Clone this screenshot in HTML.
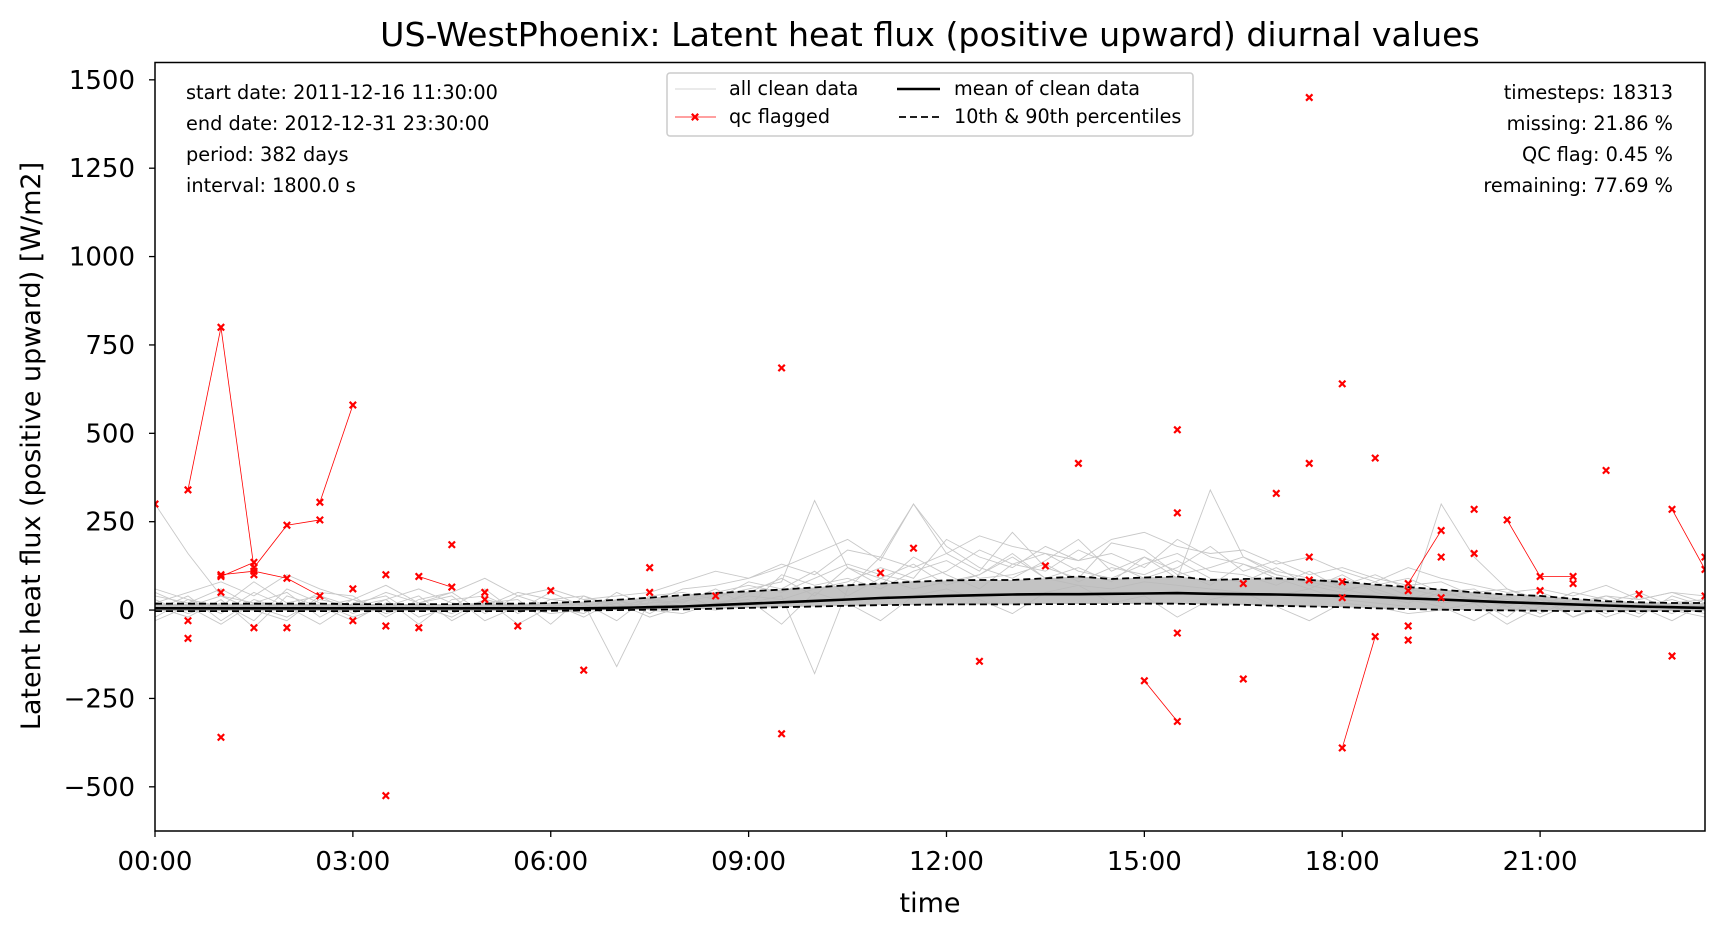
<!DOCTYPE html>
<html><head><meta charset="utf-8">
<style>
html,body{margin:0;padding:0;background:#fff;}
svg{display:block;font-family:"DejaVu Sans","Liberation Sans",sans-serif;}
</style></head>
<body>
<svg id="chart" width="1724" height="939" viewBox="0 0 1724 939" xmlns="http://www.w3.org/2000/svg">
<rect width="1724" height="939" fill="#fff"/>
<text x="930" y="46" font-size="33.2" text-anchor="middle">US-WestPhoenix: Latent heat flux (positive upward) diurnal values</text>
<g id="plot"></g>
<g id="axes"></g>
<text transform="translate(40,446) rotate(-90)" font-size="27" text-anchor="middle">Latent heat flux (positive upward) [W/m2]</text>
<text x="930" y="912" font-size="27" text-anchor="middle">time</text>
<g font-size="19.3">
<text x="186" y="99">start date: 2011-12-16 11:30:00</text>
<text x="186" y="130">end date: 2012-12-31 23:30:00</text>
<text x="186" y="161">period: 382 days</text>
<text x="186" y="192">interval: 1800.0 s</text>
</g>
<g font-size="19.3" text-anchor="end">
<text x="1673" y="99">timesteps: 18313</text>
<text x="1673" y="130">missing: 21.86 %</text>
<text x="1673" y="161">QC flag: 0.45 %</text>
<text x="1673" y="192">remaining: 77.69 %</text>
</g>
<g>
<rect x="667" y="73" width="526" height="63" rx="3" fill="#fff" stroke="#ccc" stroke-width="1.5"/>
<line x1="675" y1="89" x2="716" y2="89" stroke="#c8c8c8" stroke-width="0.8"/>
<text x="729" y="95" font-size="19.2">all clean data</text>
<line x1="675" y1="117" x2="716" y2="117" stroke="red" stroke-width="0.8"/>
<path d="M691.8,113.8L698.2,120.2M691.8,120.2L698.2,113.8" stroke="red" stroke-width="2.2"/>
<text x="729" y="123" font-size="19.2">qc flagged</text>
<line x1="897" y1="89" x2="940" y2="89" stroke="#000" stroke-width="2.6"/>
<text x="954" y="95" font-size="19.2">mean of clean data</text>
<line x1="899" y1="117" x2="940" y2="117" stroke="#000" stroke-width="1.8" stroke-dasharray="7,4"/>
<text x="954" y="123" font-size="19.2">10th &amp; 90th percentiles</text>
</g>
</svg>
<script>
const hours = [];for(let i=0;i<48;i++)hours.push(i*0.5);
const meanVals=[5,5,5,5,5,5,5,5,5,5,5,5,5,5,6,8,10,14,18,22,26,30,34,37,40,42,44,45,45,46,47,48,46,45,44,42,40,37,33,30,26,22,19,16,13,10,8,6];
const p90Vals=[18,18,18,18,18,18,17,17,17,17,18,18,20,24,29,35,42,48,53,58,64,70,75,80,84,85,85,90,95,88,92,95,85,88,90,85,80,72,65,58,50,44,40,32,25,22,20,20];
const p10Vals=[-3,-3,-3,-3,-3,-3,-3,-3,-3,-3,-3,-3,-2,-1,0,1,2,4,6,8,10,12,14,15,16,16,16,17,17,17,18,18,16,15,12,10,8,5,3,1,0,-1,-2,-3,-3,-3,-3,-3];
const gray1=[300,160,40,20,15,10,30,5,0,15,20,10,5,0,10,20,25,40,60,80,310,120,90,60,80,100,150,90,70,60,80,70,60,50,40,60,30,20,10,300,150,60,30,20,10,20,10,5];
const gray2=[40,20,60,10,-20,30,10,50,20,-10,30,-40,10,20,-160,30,10,0,20,40,-180,60,150,300,180,120,90,140,200,110,150,90,340,150,100,80,60,40,20,50,30,10,-20,20,40,10,30,0];
const gray3=[-30,10,-40,20,50,-20,30,-10,20,40,-30,10,20,-20,30,0,-10,20,40,30,60,80,120,90,200,150,120,180,140,160,120,200,150,130,100,80,90,60,30,10,-30,20,30,-20,10,20,-10,30];
const gray4=[60,30,10,80,20,40,-10,30,60,20,10,50,30,40,0,20,60,70,90,120,160,200,140,300,160,110,220,120,90,190,170,100,120,150,110,90,70,100,60,40,50,60,20,10,40,30,50,20];
const gray5=[10,-20,30,-50,40,10,-30,20,10,-20,30,10,-10,0,20,-20,10,20,30,-40,50,20,-30,40,60,30,-10,50,70,20,40,-20,30,50,10,-30,20,10,-10,0,20,-40,10,30,-20,10,-30,20];
const gray6=[20,50,80,40,100,60,30,70,20,50,90,40,60,30,40,50,80,110,90,130,100,170,150,120,160,210,180,160,140,200,220,180,160,170,130,150,110,80,120,90,70,50,60,40,70,30,50,40];
const gray7=[-20,30,-10,50,10,-40,20,40,-20,10,60,-10,30,20,-30,40,50,30,80,60,110,40,90,130,70,100,160,90,120,80,150,110,70,130,90,60,100,50,30,60,20,40,-10,30,10,-20,40,10];
const gray8=[30,-10,20,-30,60,20,-20,10,40,-30,20,30,-40,40,10,30,20,60,10,100,70,90,60,110,140,90,100,130,80,120,100,140,90,80,120,70,50,80,40,20,30,-20,50,20,-10,40,0,-20];
const gray9=[0,40,-30,30,0,50,40,-20,30,50,-10,40,10,-10,50,10,30,50,70,50,90,130,100,80,110,170,130,110,170,130,90,120,180,110,140,100,120,90,70,80,40,30,10,50,30,-10,20,30];
const gray10=[50,10,40,0,-30,40,10,30,-40,30,40,0,50,10,30,-10,40,10,50,90,40,120,70,150,100,60,130,160,110,90,130,160,110,100,70,110,60,70,90,50,60,10,40,-20,20,50,10,-10];
const grayDays=[gray1,gray2,gray3,gray4,gray5,gray6,gray7,gray8,gray9,gray10];
const qcSegments=[
 [[0,300]],[[0.5,340],[1,800],[1.5,120],[2,240],[2.5,255]],[[2.5,305],[3,580]],[[0.5,-30]],[[0.5,-80]],
 [[1,100],[1.5,110],[2,90],[2.5,40]],[[1,95],[1.5,135]],[[1,50]],[[1,-360]],[[1.5,100]],[[1.5,-50]],[[2,-50]],
 [[3,60]],[[3,-30]],[[3.5,100]],[[3.5,-45]],[[3.5,-525]],[[4,95],[4.5,65]],[[4,-50]],[[4.5,185]],[[5,50]],[[5,30]],
 [[5.5,-45]],[[6,55]],[[6.5,-170]],[[7.5,120]],[[7.5,50]],[[8.5,40]],[[9.5,685]],[[9.5,-350]],[[11,105]],[[11.5,175]],
 [[12.5,-145]],[[13.5,125]],[[14,415]],[[15,-200],[15.5,-315]],[[15.5,510]],[[15.5,275]],[[15.5,-65]],[[16.5,75]],[[16.5,-195]],
 [[17,330]],[[17.5,1450]],[[17.5,415]],[[17.5,150]],[[17.5,85]],[[18,640]],[[18,80]],[[18,35]],[[18,-390],[18.5,-75]],
 [[18.5,430]],[[19,75],[19.5,225]],[[19,55]],[[19,-45]],[[19,-85]],[[19.5,150]],[[19.5,35]],[[20,285]],[[20,160]],
 [[20.5,255],[21,95],[21.5,95]],[[21,55]],[[21.5,75]],[[22,395]],[[22.5,45]],[[23,285],[23.5,115]],[[23,-130]],[[23.5,150]],[[23.5,40]]
];
const yTicks=[-500,-250,0,250,500,750,1000,1250,1500];
const xTicks=[0,3,6,9,12,15,18,21];
const xTickLabels=["00:00","03:00","06:00","09:00","12:00","15:00","18:00","21:00"];

const L=155,R=1705,T=62.5,B=831;
const xMin=0,xMax=23.5,yMin=-625,yMax=1549;
const sx=h=>L+(h-xMin)/(xMax-xMin)*(R-L);
const sy=v=>B-(v-yMin)/(yMax-yMin)*(B-T);
const NS="http://www.w3.org/2000/svg";
const plot=document.getElementById('plot'),axes=document.getElementById('axes');
function mk(tag,attrs,parent){const e=document.createElementNS(NS,tag);for(const k in attrs)e.setAttribute(k,attrs[k]);parent.appendChild(e);return e;}
const clip=mk('clipPath',{id:'cp'},plot);mk('rect',{x:L,y:T,width:R-L,height:B-T},clip);
const g=mk('g',{'clip-path':'url(#cp)'},plot);
const pathOf=arr=>arr.map((v,i)=>(i?'L':'M')+sx(hours[i]).toFixed(1)+','+sy(v).toFixed(1)).join('');
grayDays.forEach((d,i)=>{const p=mk('path',{d:pathOf(d),fill:'none',stroke:'#c8c8c8','stroke-width':0.9},g);

});
let band='';p90Vals.forEach((v,i)=>band+=(i?'L':'M')+sx(hours[i])+','+sy(v));
for(let i=p10Vals.length-1;i>=0;i--)band+='L'+sx(hours[i])+','+sy(p10Vals[i]);
const bp=mk('path',{d:band+'Z',fill:'#b8b8b8','fill-opacity':0.85},g);


const mp=mk('path',{d:pathOf(meanVals),fill:'none',stroke:'#000','stroke-width':2.6},g);


[p90Vals,p10Vals].forEach(a=>{const p=mk('path',{d:pathOf(a),fill:'none',stroke:'#000','stroke-width':1.8,'stroke-dasharray':'7,4'},g);

});
qcSegments.forEach(seg=>{
 if(seg.length>1){const p=mk('path',{d:seg.map((q,i)=>(i?'L':'M')+sx(q[0])+','+sy(q[1])).join(''),fill:'none',stroke:'red','stroke-width':0.8},g);
 
 }
 seg.forEach(q=>{const x=sx(q[0]),y=sy(q[1]),s=3.2;
  const m=mk('path',{d:`M${x-s},${y-s}L${x+s},${y+s}M${x-s},${y+s}L${x+s},${y-s}`,stroke:'red','stroke-width':2.2},g);
  
  });
});
mk('rect',{x:L,y:T,width:R-L,height:B-T,fill:'none',stroke:'#000','stroke-width':1.5},axes);
yTicks.forEach(v=>{const y=sy(v);mk('line',{x1:L-6,y1:y,x2:L,y2:y,stroke:'#000','stroke-width':1.3},axes);
 const t=mk('text',{x:L-20,y:y+9,'font-size':26,'text-anchor':'end'},axes);t.textContent=(v<0?'\u2212'+(-v):v);
 
 });
xTicks.forEach((h,i)=>{const x=sx(h);mk('line',{x1:x,y1:B,x2:x,y2:B+6,stroke:'#000','stroke-width':1.3},axes);
 const t=mk('text',{x:x,y:B+39,'font-size':26,'text-anchor':'middle'},axes);t.textContent=xTickLabels[i];
 
 });
</script>
</body></html>
